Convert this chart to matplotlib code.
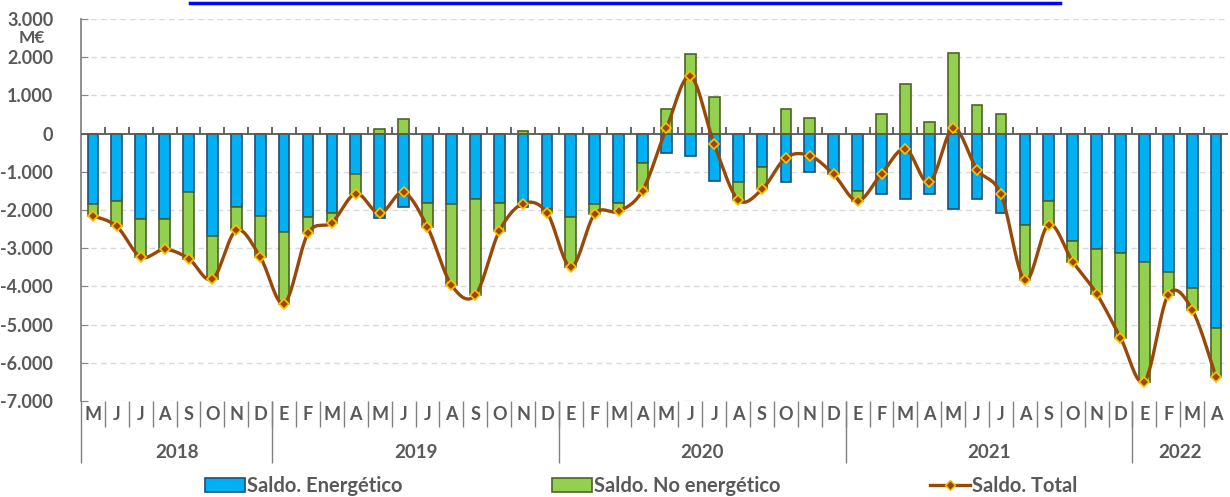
import numpy as np
import matplotlib.pyplot as plt
from matplotlib.lines import Line2D

plt.rcParams['font.family'] = ['Liberation Sans Narrow', 'DejaVu Sans Condensed', 'Lato', 'DejaVu Sans']
plt.rcParams['font.weight'] = 'bold'

# datos mensuales (M€), mayo 2018 - abril 2022
meses = ['M', 'J', 'J', 'A', 'S', 'O', 'N', 'D',
         'E', 'F', 'M', 'A', 'M', 'J', 'J', 'A', 'S', 'O', 'N', 'D',
         'E', 'F', 'M', 'A', 'M', 'J', 'J', 'A', 'S', 'O', 'N', 'D',
         'E', 'F', 'M', 'A', 'M', 'J', 'J', 'A', 'S', 'O', 'N', 'D',
         'E', 'F', 'M', 'A']
anios = ['2018', '2019', '2020', '2021', '2022']
meses_por_anio = [8, 12, 12, 12, 4]

energetico = [-1830, -1770, -2240, -2240, -1540, -2690, -1930, -2170,
              -2580, -2190, -2070, -1070, -2210, -1930, -1810, -1840, -1700, -1810, -1910, -1970,
              -2190, -1840, -1810, -770, -510, -580, -1240, -1270, -870, -1280, -1000, -1020,
              -1500, -1570, -1700, -1580, -1970, -1700, -2090, -2400, -1770, -2810, -3010, -3130,
              -3350, -3620, -4040, -5080]
no_energetico = [-320, -660, -990, -790, -1730, -1120, -600, -1060,
                 -1870, -420, -260, -500, 120, 390, -640, -2120, -2530, -750, 80, -100,
                 -1300, -260, -220, -720, 650, 2080, 960, -460, -590, 650, 420, -50,
                 -260, 520, 1300, 300, 2110, 760, 500, -1440, -610, -540, -1180, -2210,
                 -3140, -600, -570, -1300]

energetico = np.array(energetico)
no_energetico = np.array(no_energetico)
total = energetico + no_energetico
x = np.arange(len(meses))


def curva_suave(xs, ys, n=20):
    # spline tipo Excel (Bezier con tangentes Catmull-Rom)
    px = np.concatenate([[xs[0]], xs, [xs[-1]]])
    py = np.concatenate([[ys[0]], ys, [ys[-1]]])
    cx, cy = [], []
    t = np.linspace(0, 1, n)
    for i in range(1, len(px) - 2):
        p0 = np.array([px[i], py[i]])
        p3 = np.array([px[i + 1], py[i + 1]])
        c1 = p0 + (p3 - np.array([px[i - 1], py[i - 1]])) / 6
        c2 = p3 - (np.array([px[i + 2], py[i + 2]]) - p0) / 6
        pts = ((1 - t) ** 3)[:, None] * p0 + (3 * (1 - t) ** 2 * t)[:, None] * c1 \
            + (3 * (1 - t) * t ** 2)[:, None] * c2 + (t ** 3)[:, None] * p3
        cx.extend(pts[:, 0])
        cy.extend(pts[:, 1])
    return cx, cy


fig = plt.figure(figsize=(12.3, 4.97), dpi=100)
ax = fig.add_axes([81 / 1230, 1 - 401 / 497, 1147 / 1230, 382 / 497])

azul = '#00B0F0'
verde = '#92D050'
marron = '#984807'
gris = '#595959'

ax.bar(x, energetico, width=0.45, color=azul, edgecolor='#1F4E79', linewidth=1.2,
       label='Saldo. Energético', zorder=3)
fondo = np.where(no_energetico < 0, energetico, 0)
ax.bar(x, no_energetico, width=0.45, bottom=fondo, color=verde, edgecolor='#4F6228',
       linewidth=1.2, label='Saldo. No energético', zorder=3)

sx, sy = curva_suave(x, total)
ax.plot(sx, sy, color=marron, lw=2.4, zorder=4)
ax.plot(x, total, linestyle='none', marker='D', markersize=5.5, markerfacecolor=marron,
        markeredgecolor='#FFC000', markeredgewidth=1.2, zorder=5)

ax.axhline(0, color=gris, lw=1.3, zorder=4)
ax.vlines(x[:-1] + 0.5, 0, 180, color=gris, lw=1.3, zorder=4)

ax.set_xlim(-0.5, len(meses) - 0.5)
ax.set_ylim(-7000, 3000)
ax.set_yticks(np.arange(-7000, 3001, 1000))
ax.set_yticklabels(['{:,.0f}'.format(v).replace(',', '.') for v in np.arange(-7000, 3001, 1000)])
ax.tick_params(axis='y', direction='in', length=5, color='#868686', labelsize=13,
               labelcolor=gris, pad=20)
ax.set_xticks([])
ax.grid(axis='y', color='#D9D9D9', linestyle=(0, (4, 3)), lw=1, zorder=0)
for s in ['top', 'right', 'bottom']:
    ax.spines[s].set_visible(False)
ax.spines['left'].set_color('#868686')
ax.spines['left'].set_linewidth(1.3)

ax.text(-0.043, 0.95, 'M€', transform=ax.transAxes, ha='center', va='center',
        fontsize=12.5, color=gris)

# eje de categorías con dos niveles
tr = ax.get_xaxis_transform()
for i, m in enumerate(meses):
    ax.text(i, -0.036, m, transform=tr, ha='center', va='center', fontsize=13,
            color=gris, clip_on=False)
ax.vlines(x[1:] - 0.5, -0.068, 0, transform=tr, color='#808080', lw=1, clip_on=False)
inicio = -0.5
limites = [inicio]
for n in meses_por_anio:
    limites.append(limites[-1] + n)
for i, a in enumerate(anios):
    ax.text((limites[i] + limites[i + 1]) / 2, -0.134, a, transform=tr, ha='center',
            va='center', fontsize=13.5, color=gris, clip_on=False)
ax.vlines(limites[:-1], -0.163, 0, transform=tr, color='#808080', lw=1, clip_on=False)

# subrayado del título recortado
fig.add_artist(Line2D([190 / 1230, 1060 / 1230], [1 - 3 / 497, 1 - 3 / 497],
                      color='#0000FF', lw=2.5))

handles = [plt.Rectangle((0, 0), 1, 1, facecolor=azul, edgecolor='#1F4E79', lw=1.2),
           plt.Rectangle((0, 0), 1, 1, facecolor=verde, edgecolor='#4F6228', lw=1.2),
           Line2D([], [], color=marron, lw=2.4, marker='D', markersize=5.5,
                  markerfacecolor=marron, markeredgecolor='#FFC000')]
fig.legend(handles, ['Saldo. Energético', 'Saldo. No energético', 'Saldo. Total'],
           loc='center left', bbox_to_anchor=(195 / 1230, 1 - 486 / 497), ncol=3,
           frameon=False, borderpad=0, fontsize=14.5, handlelength=2.0, handleheight=0.65,
           handletextpad=0.1, columnspacing=7.4, labelcolor=gris)

fig.savefig('out.png', dpi=100)
